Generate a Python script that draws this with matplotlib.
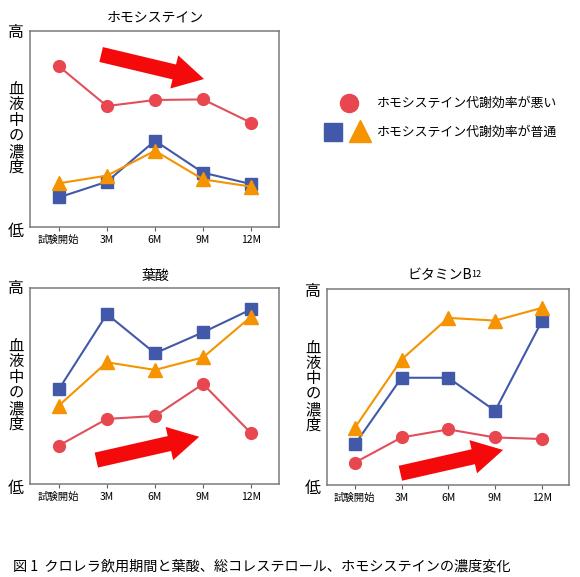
import matplotlib
matplotlib.use("Agg")
import matplotlib.pyplot as plt
from matplotlib.lines import Line2D

plt.rcParams['font.family'] = ['Noto Sans CJK JP', 'DejaVu Sans']

# ---- data (relative concentration, 0 = 低, 1 = 高) ----
x_labels = ['試験開始', '3M', '6M', '9M', '12M']

homo_poor = [0.82, 0.617, 0.648, 0.651, 0.532]
homo_norm_sq = [0.151, 0.231, 0.44, 0.277, 0.219]
homo_norm_tri = [0.223, 0.262, 0.389, 0.243, 0.206]

folate_poor = [0.196, 0.332, 0.347, 0.51, 0.259]
folate_norm_sq = [0.483, 0.867, 0.667, 0.774, 0.891]
folate_norm_tri = [0.40, 0.621, 0.582, 0.646, 0.854]

b12_poor = [0.114, 0.243, 0.284, 0.243, 0.235]
b12_norm_sq = [0.207, 0.548, 0.548, 0.379, 0.837]
b12_norm_tri = [0.292, 0.641, 0.854, 0.84, 0.905]

titles = ['ホモシステイン', '葉酸', 'ビタミンB']
legend_labels = ['ホモシステイン代謝効率が悪い', 'ホモシステイン代謝効率が普通']
caption = '図 1  クロレラ飲用期間と葉酸、総コレステロール、ホモシステインの濃度変化'

RED = '#E8474F'
RED_LINE = '#E0505C'
BLUE = '#4159A8'
ORANGE = '#F59300'
ARROW = '#F40A0A'

W, H = 580, 577
fig = plt.figure(figsize=(W / 100, H / 100), dpi=100)


def fx(px):
    return px / W


def fy(py):
    return 1 - py / H


def make_axes(l, t, r, b):
    return fig.add_axes([fx(l), fy(b), fx(r) - fx(l), fy(t) - fy(b)])


def draw_panel(ax, poor, sq, tri, arrow_from, arrow_to):
    xs = list(range(len(x_labels)))
    ax.plot(xs, sq, color=BLUE, lw=1.5, marker='s', ms=8.5, mfc=BLUE, mec=BLUE, zorder=3)
    ax.plot(xs, tri, color=ORANGE, lw=1.5, marker='^', ms=10, mfc=ORANGE, mec=ORANGE, zorder=4)
    ax.plot(xs, poor, color=RED_LINE, lw=1.5, marker='o', ms=8.5, mfc=RED, mec=RED, zorder=5)
    ax.set_xlim(-0.6, 4.58)
    ax.set_ylim(0, 1)
    ax.set_xticks(xs)
    ax.set_xticklabels(x_labels, fontsize=7.5)
    ax.set_yticks([])
    ax.tick_params(axis='x', length=3, width=0.8, color='#606060', pad=3)
    for s in ax.spines.values():
        s.set_color('#7a7a7a')
        s.set_linewidth(1.1)
    ax.annotate('', xy=arrow_to, xytext=arrow_from, xycoords='data',
                arrowprops=dict(arrowstyle='simple,head_length=2.2,head_width=2.45,tail_width=1.1',
                                mutation_scale=10, color=ARROW, lw=0,
                                shrinkA=0, shrinkB=0), zorder=6)


def ylabels(xc, top, mid_top, mid_bot, bot):
    fig.text(fx(xc), fy(top), '高', fontsize=11.5, ha='center', va='center')
    fig.text(fx(xc), fy(bot), '低', fontsize=11.5, ha='center', va='center')
    chars = '血液中の濃度'
    n = len(chars)
    for i, c in enumerate(chars):
        y = mid_top + (mid_bot - mid_top) * i / (n - 1)
        fig.text(fx(xc), fy(y), c, fontsize=11, ha='center', va='center')


ax1 = make_axes(30, 31, 279, 227)
draw_panel(ax1, homo_poor, homo_norm_sq, homo_norm_tri, (0.88, 0.88), (3.02, 0.755))
fig.text(fx(155), fy(18), titles[0], fontsize=10, ha='center', va='center')
ylabels(16, 32, 89, 167, 232)

ax2 = make_axes(30, 288, 279, 484)
draw_panel(ax2, folate_poor, folate_norm_sq, folate_norm_tri, (0.78, 0.122), (2.92, 0.241))
fig.text(fx(155), fy(276), titles[1], fontsize=10, ha='center', va='center')
ylabels(16, 289, 346, 424, 489)

ax3 = make_axes(326.7, 289.3, 569, 485)
draw_panel(ax3, b12_poor, b12_norm_sq, b12_norm_tri, (0.975, 0.06), (3.17, 0.179))
tt = fig.text(fx(440), fy(275), titles[2], fontsize=10, ha='center', va='center')
ax3.annotate('12', xy=(0.98, 0.18), xycoords=tt, fontsize=6.5, ha='left', va='bottom')
ylabels(313, 292, 348, 425, 489)

# legend
fig.add_artist(Line2D([fx(349)], [fy(103)], marker='o', ms=13, color=RED, mec=RED, lw=0))
fig.add_artist(Line2D([fx(333)], [fy(132)], marker='s', ms=12.5, color=BLUE, mec=BLUE, lw=0))
fig.add_artist(Line2D([fx(360)], [fy(131)], marker='^', ms=15.5, color=ORANGE, mec=ORANGE, lw=0))
fig.text(fx(377), fy(103), legend_labels[0], fontsize=9.3, ha='left', va='center')
fig.text(fx(377), fy(132), legend_labels[1], fontsize=9.3, ha='left', va='center')

fig.text(fx(13), fy(566), caption, fontsize=10.2, ha='left', va='center')

fig.savefig('out.png', dpi=100, facecolor='white')
